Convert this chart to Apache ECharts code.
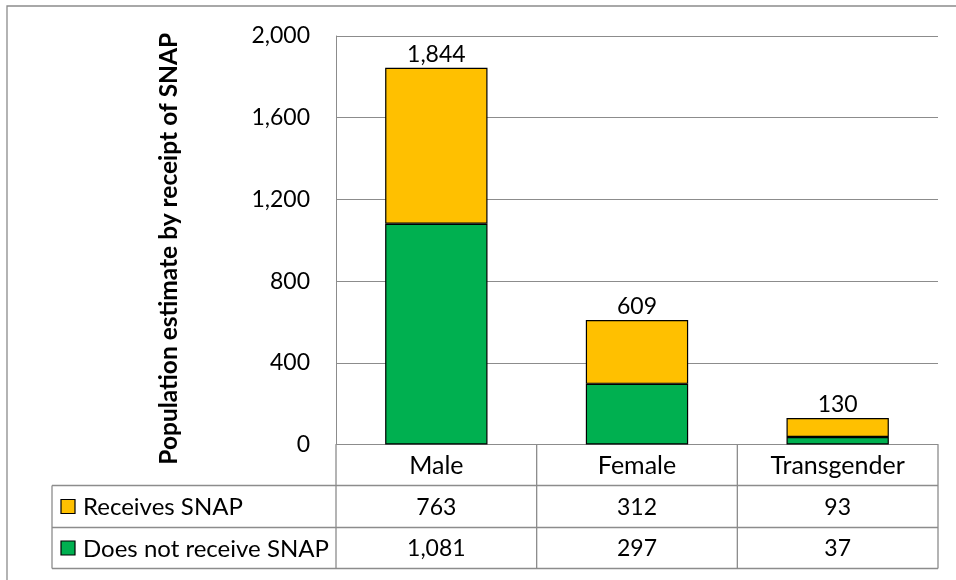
<!DOCTYPE html>
<html><head><meta charset="utf-8">
<script src="https://cdn.jsdelivr.net/npm/echarts@6/dist/echarts.min.js"></script>
<style>html,body{margin:0;padding:0;background:#fff}#c{width:956px;height:580px}</style>
</head><body><div id="c"></div>
<script>
const categories = ['Male', 'Female', 'Transgender'];
const receives = [763, 312, 93];
const notReceives = [1081, 297, 37];
const seriesNames = ['Receives SNAP', 'Does not receive SNAP'];
const yAxisTitle = 'Population estimate by receipt of SNAP';
const yMax = 2000, yInterval = 400;

const FONT = 'Lato';
const GRAY = '#8c8c8c';
const colors = { receives: '#FFC000', not: '#00B050' };
const fmt = v => Number(v).toLocaleString('en-US');
const totals = categories.map((_, i) => receives[i] + notReceives[i]);

const chart = echarts.init(document.getElementById('c'), null, { renderer: 'canvas' });
const gridL = 336, gridR = 18, gridT = 36, gridB = 135.5;
chart.setOption({
  animation: false,
  textStyle: { fontFamily: FONT },
  grid: { left: gridL, right: gridR, top: gridT, bottom: gridB },
  xAxis: {
    type: 'category', data: categories,
    axisLine: { show: true, lineStyle: { color: GRAY, width: 1 } },
    axisTick: { show: false }, axisLabel: { show: false }
  },
  yAxis: {
    type: 'value', min: 0, max: yMax, interval: yInterval,
    name: yAxisTitle, nameLocation: 'middle', nameGap: 154,
    nameTextStyle: { fontFamily: FONT, fontWeight: 'bold', fontSize: 24.5, color: '#000', padding: [0, 17, 0, 0] },
    axisLine: { show: true, lineStyle: { color: GRAY, width: 1 } },
    axisTick: { show: false },
    axisLabel: { fontFamily: FONT, fontSize: 23, color: '#000', margin: 26, formatter: v => fmt(v) },
    splitLine: { lineStyle: { color: GRAY, width: 1 } }
  },
  series: [
    { name: seriesNames[1], type: 'bar', stack: 's', data: notReceives, barWidth: '51%',
      itemStyle: { color: colors.not, borderColor: '#000', borderWidth: 1.2 } },
    { name: seriesNames[0], type: 'bar', stack: 's', data: receives, barWidth: '51%',
      itemStyle: { color: colors.receives, borderColor: '#000', borderWidth: 1.2 },
      label: { show: true, position: 'top', distance: 2, fontFamily: FONT, fontSize: 23, color: '#000',
        formatter: p => fmt(totals[p.dataIndex]) } }
  ]
});

// Data table below the chart, positioned from the axes
const y0 = chart.convertToPixel({ yAxisIndex: 0 }, 0);
const cellW = (956 - gridR - gridL) / categories.length;
const colX = i => gridL + cellW * i;
const legendL = 52;
const rowY = [y0, y0 + 41, y0 + 83, y0 + 124];
const ls = { stroke: GRAY, lineWidth: 1.3 };
const g = [];
g.push({ type: 'rect', shape: { x: 7, y: 6, width: 1000, height: 700 }, style: { fill: 'none', stroke: GRAY, lineWidth: 1.3 }, silent: true });
for (let r = 1; r < rowY.length; r++) g.push({ type: 'line', shape: { x1: legendL, y1: rowY[r], x2: colX(categories.length), y2: rowY[r] }, style: ls });
g.push({ type: 'line', shape: { x1: legendL, y1: rowY[1], x2: legendL, y2: rowY[3] }, style: ls });
for (let c = 0; c <= categories.length; c++) g.push({ type: 'line', shape: { x1: colX(c), y1: rowY[0], x2: colX(c), y2: rowY[3] }, style: ls });
const tStyle = { fontFamily: FONT, fontSize: 23, fill: '#000', align: 'center', verticalAlign: 'middle' };
categories.forEach((cat, i) => {
  const cx = chart.convertToPixel({ xAxisIndex: 0 }, cat);
  g.push({ type: 'text', x: cx, y: (rowY[0] + rowY[1]) / 2 + 1, style: Object.assign({}, tStyle, { text: cat, fontSize: 25 }) });
  g.push({ type: 'text', x: cx, y: (rowY[1] + rowY[2]) / 2 + 1, style: Object.assign({}, tStyle, { text: fmt(receives[i]) }) });
  g.push({ type: 'text', x: cx, y: (rowY[2] + rowY[3]) / 2 + 1, style: Object.assign({}, tStyle, { text: fmt(notReceives[i]) }) });
});
[[seriesNames[0], colors.receives, 1], [seriesNames[1], colors.not, 2]].forEach(([name, col, r]) => {
  const my = (rowY[r] + rowY[r + 1]) / 2;
  g.push({ type: 'rect', shape: { x: 61, y: my - 7, width: 14, height: 14 }, style: { fill: col, stroke: '#000', lineWidth: 1.2 } });
  g.push({ type: 'text', x: 83, y: my + 1, style: { text: name, fontFamily: FONT, fontSize: 24, fill: '#000', align: 'left', verticalAlign: 'middle' } });
});
chart.setOption({ graphic: g });
</script></body></html>
